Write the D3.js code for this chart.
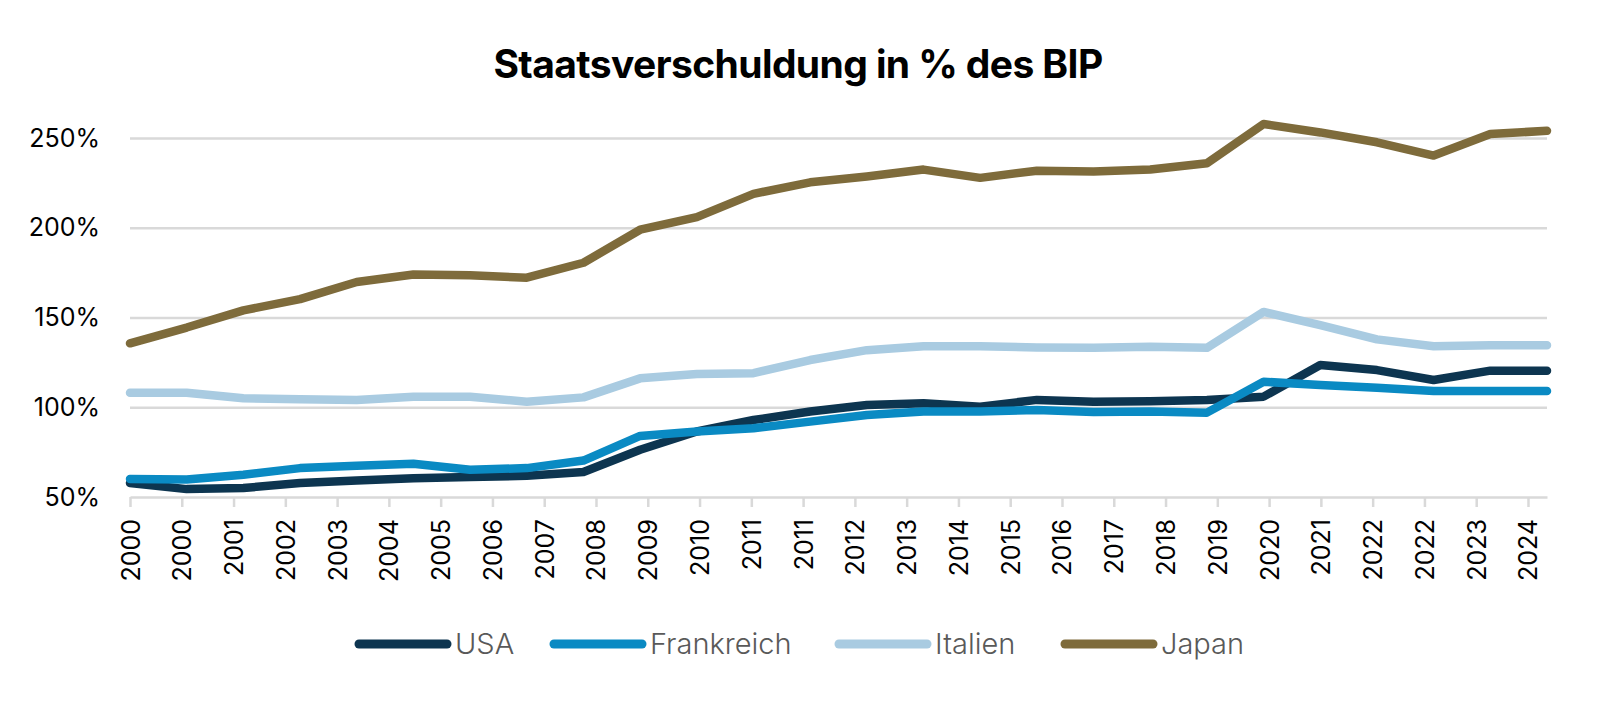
<!DOCTYPE html>
<html>
<head>
<meta charset="utf-8">
<script src="https://cdn.jsdelivr.net/npm/d3@7"></script>
<style>
  body { margin: 0; background: #fff; }
  text { font-family: Inter, "Open Sans", sans-serif; }
</style>
</head>
<body>
<script>
// Data
const years = [2000, 2001, 2002, 2003, 2004, 2005, 2006, 2007, 2008, 2009, 2010, 2011, 2012,
  2013, 2014, 2015, 2016, 2017, 2018, 2019, 2020, 2021, 2022, 2023, 2024, 2025];
const usa = [57.8, 54.4, 55.0, 57.8, 59.2, 60.5, 61.1, 61.8, 63.9, 76.3, 86.5, 92.9, 97.6,
  101.3, 102.2, 100.3, 104.1, 103.1, 103.4, 104.1, 105.9, 123.5, 120.7, 115.2, 120.4, 120.4];
const frankreich = [60.0, 59.8, 62.4, 66.1, 67.4, 68.5, 65.2, 66.1, 70.3, 84.0, 86.5, 88.3, 92.0,
  95.7, 97.6, 97.6, 98.5, 97.3, 97.6, 97.0, 114.2, 112.4, 110.9, 109.0, 109.0, 109.0];
const italien = [108.1, 108.1, 105.0, 104.5, 104.1, 105.9, 105.9, 103.1, 105.5, 116.1, 118.5, 119.0, 126.3,
  131.8, 134.0, 134.0, 133.3, 133.1, 133.7, 133.1, 153.1, 145.7, 137.8, 134.0, 134.5, 134.5];
const japan = [135.6, 144.4, 154.0, 160.2, 169.8, 174.0, 173.5, 172.2, 180.5, 198.9, 205.9, 218.9, 225.3,
  228.5, 232.4, 227.8, 231.8, 231.3, 232.4, 235.9, 257.8, 253.1, 247.6, 240.2, 252.2, 254.0];

const seriesNames = ["USA", "Frankreich", "Italien", "Japan"];
const seriesColors = ["#0d3550", "#0a8ac3", "#a9cbe1", "#7e6b3b"];
const seriesValues = [usa, frankreich, italien, japan];

const xTickLabels = ["2000", "2000", "2001", "2002", "2003", "2004", "2005", "2006", "2007", "2008",
  "2009", "2010", "2011", "2011", "2012", "2013", "2014", "2015", "2016", "2017", "2018", "2019",
  "2020", "2021", "2022", "2022", "2023", "2024"];
const yTicks = [50, 100, 150, 200, 250];

const svgWidth = 1597;
const svgHeight = 708;
const plot = { left: 130, right: 1547, top: 138, bottom: 497 };
const tickStep = 0.9135; // axis label spacing in years (date axis)

const svg = d3.select("body")
  .append("svg")
  .attr("width", svgWidth)
  .attr("height", svgHeight);

const xScale = d3.scaleLinear()
  .domain([years[0], years[years.length - 1]])
  .range([plot.left, plot.right]);

const yScale = d3.scaleLinear()
  .domain([50, 250])
  .range([plot.bottom, plot.top]);

// title
svg.append("text")
  .attr("x", 798)
  .attr("y", 78)
  .attr("text-anchor", "middle")
  .style("font-size", "39px")
  .style("font-weight", "700")
  .style("letter-spacing", "-0.6px")
  .attr("fill", "#000")
  .text("Staatsverschuldung in % des BIP");

// gridlines + y labels
const yAxis = svg.append("g")
  .attr("transform", `translate(${plot.left},0)`)
  .call(d3.axisLeft(yScale)
    .tickValues(yTicks)
    .tickSize(-(plot.right - plot.left))
    .tickPadding(30)
    .tickFormat(d => d + "%"));
yAxis.select(".domain").remove();
yAxis.selectAll(".tick line")
  .attr("stroke", "#d9d9d9")
  .attr("stroke-width", 2.5)
  .filter(d => d === 50).remove();
yAxis.selectAll(".tick text")
  .attr("fill", "#000")
  .style("font-size", "25px");

// x axis
const tickValues = xTickLabels.map((d, i) => years[0] + i * tickStep);
const xAxis = svg.append("g")
  .attr("transform", `translate(0,${plot.bottom})`)
  .call(d3.axisBottom(xScale)
    .tickValues(tickValues)
    .tickSize(10)
    .tickSizeOuter(0)
    .tickFormat((d, i) => xTickLabels[i]));
xAxis.select(".domain")
  .attr("stroke", "#d9d9d9")
  .attr("stroke-width", 2.5);
xAxis.selectAll(".tick line")
  .attr("stroke", "#d9d9d9")
  .attr("stroke-width", 2.5);
xAxis.selectAll(".tick text")
  .attr("fill", "#000")
  .style("font-size", "25px")
  .attr("transform", "rotate(-90)")
  .attr("text-anchor", "end")
  .attr("x", -22)
  .attr("y", 0)
  .attr("dy", "0.36em");

// lines
const line = d3.line()
  .x((d, i) => xScale(years[i]))
  .y(d => yScale(d));

svg.append("g")
  .selectAll("path")
  .data(seriesValues)
  .enter().append("path")
  .attr("d", line)
  .attr("fill", "none")
  .attr("stroke", (d, i) => seriesColors[i])
  .attr("stroke-width", 8.5)
  .attr("stroke-linejoin", "round")
  .attr("stroke-linecap", "round");

// legend
const legendX = [359, 554, 839, 1065];
const legend = svg.append("g")
  .selectAll("g")
  .data(seriesNames)
  .enter().append("g")
  .attr("transform", (d, i) => `translate(${legendX[i]},644)`);
legend.append("line")
  .attr("x1", 0).attr("x2", 88)
  .attr("stroke", (d, i) => seriesColors[i])
  .attr("stroke-width", 9)
  .attr("stroke-linecap", "round");
legend.append("text")
  .attr("x", 96)
  .attr("dy", "0.36em")
  .attr("fill", "#595959")
  .style("font-size", "29px")
  .style("font-weight", "300")
  .text(d => d);
</script>
</body>
</html>
